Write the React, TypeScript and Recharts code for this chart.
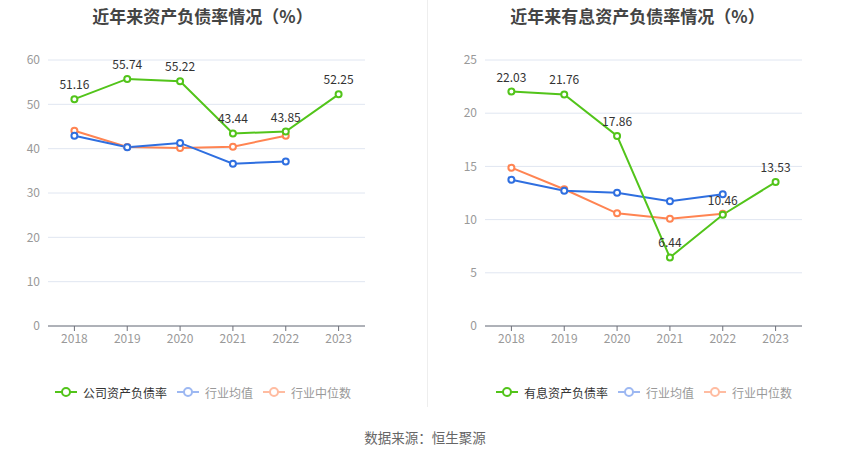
import React from "react";
import { LineChart, Line, XAxis, YAxis, CartesianGrid, LabelList } from "recharts";

const years = ["2018", "2019", "2020", "2021", "2022", "2023"];
const companyDebt = [51.16, 55.74, 55.22, 43.44, 43.85, 52.25];
const industryAvgDebt = [42.9, 40.3, 41.3, 36.6, 37.1, null];
const industryMedDebt = [44.05, 40.4, 40.15, 40.45, 42.9, null];
const interestDebt = [22.03, 21.76, 17.86, 6.44, 10.46, 13.53];
const industryAvgInterest = [13.75, 12.72, 12.53, 11.72, 12.38, null];
const industryMedInterest = [14.88, 12.85, 10.59, 10.09, 10.56, null];
const leftTicks = [0, 10, 20, 30, 40, 50, 60];
const rightTicks = [0, 5, 10, 15, 20, 25];

const GREEN = "#52c41a";
const BLUE = "#2f6fe0";
const ORANGE = "#ff8452";
const FONT = "'Noto Sans CJK SC', 'Noto Sans', sans-serif";

const leftData = years.map((y, i) => ({ year: y, main: companyDebt[i], avg: industryAvgDebt[i], med: industryMedDebt[i] }));
const rightData = years.map((y, i) => ({ year: y, main: interestDebt[i], avg: industryAvgInterest[i], med: industryMedInterest[i] }));

const dot = (color: string) => ({ r: 3, stroke: color, strokeWidth: 2, fill: "#fff" });

function Chart({ data, ticks, max, yWidth, right }: any) {
  return (
    <LineChart width={425} height={356} data={data} margin={{ top: 60, right, left: 0, bottom: 0 }}>
      <CartesianGrid vertical={false} stroke="#e0e6f1" />
      <XAxis
        dataKey="year"
        height={30}
        stroke="#6e7079"
        padding={{ left: 26.4, right: 26.4 }}
        tick={{ fill: "#999", fontSize: 12, fontFamily: FONT }}
        tickSize={5}
        tickMargin={3}
      />
      <YAxis
        width={yWidth}
        domain={[0, max]}
        ticks={ticks}
        axisLine={false}
        tickLine={false}
        tick={{ fill: "#999", fontSize: 12, fontFamily: FONT }}
      />
      <Line dataKey="med" stroke={ORANGE} strokeWidth={2} dot={dot(ORANGE)} isAnimationActive={false} connectNulls={false} />
      <Line dataKey="avg" stroke={BLUE} strokeWidth={2} dot={dot(BLUE)} isAnimationActive={false} connectNulls={false} />
      <Line dataKey="main" stroke={GREEN} strokeWidth={2} dot={dot(GREEN)} isAnimationActive={false}>
        <LabelList dataKey="main" position="top" offset={10} fill="#333" fontSize={12} fontFamily={FONT} />
      </Line>
    </LineChart>
  );
}

function LegendItem({ color, text, textColor }: any) {
  return (
    <div style={{ display: "flex", alignItems: "center", marginRight: 10 }}>
      <svg width={22} height={12} style={{ marginRight: 6 }}>
        <line x1={0} y1={6} x2={22} y2={6} stroke={color} strokeWidth={2} />
        <circle cx={11} cy={6} r={4} stroke={color} strokeWidth={2} fill="#fff" />
      </svg>
      <span style={{ fontSize: 12, color: textColor, fontFamily: FONT }}>{text}</span>
    </div>
  );
}

function Legend({ left, first }: any) {
  return (
    <div style={{ position: "absolute", left, top: 383, display: "flex", alignItems: "center", height: 18 }}>
      <LegendItem color={GREEN} text={first} textColor="#333" />
      <LegendItem color="#9db8f2" text="行业均值" textColor="#999" />
      <LegendItem color="#ffbca1" text="行业中位数" textColor="#999" />
    </div>
  );
}

export default function App() {
  const titleStyle: React.CSSProperties = {
    position: "absolute",
    top: 3,
    fontSize: 17,
    fontWeight: "bold",
    color: "#444",
    fontFamily: FONT,
    textAlign: "center",
    width: 425,
  };
  return (
    <div style={{ position: "absolute", left: 0, top: 0, width: 850, height: 458, background: "#fff", fontFamily: FONT }}>
      <div style={{ ...titleStyle, left: -10 }}>近年来资产负债率情况（%）</div>
      <div style={{ ...titleStyle, left: 425 }}>近年来有息资产负债率情况（%）</div>
      <div style={{ position: "absolute", left: 0, top: 0 }}>
        <Chart data={leftData} ticks={leftTicks} max={60} yWidth={48} right={60} />
      </div>
      <div style={{ position: "absolute", left: 425, top: 0 }}>
        <Chart data={rightData} ticks={rightTicks} max={25} yWidth={60} right={48} />
      </div>
      <div style={{ position: "absolute", left: 427, top: 0, width: 1, height: 407, background: "#eee" }} />
      <Legend left={55} first="公司资产负债率" />
      <Legend left={496} first="有息资产负债率" />
      <div style={{ position: "absolute", left: 0, top: 427, width: 850, textAlign: "center", fontSize: 13.5, color: "#666", fontFamily: FONT }}>
        数据来源：恒生聚源
      </div>
    </div>
  );
}
